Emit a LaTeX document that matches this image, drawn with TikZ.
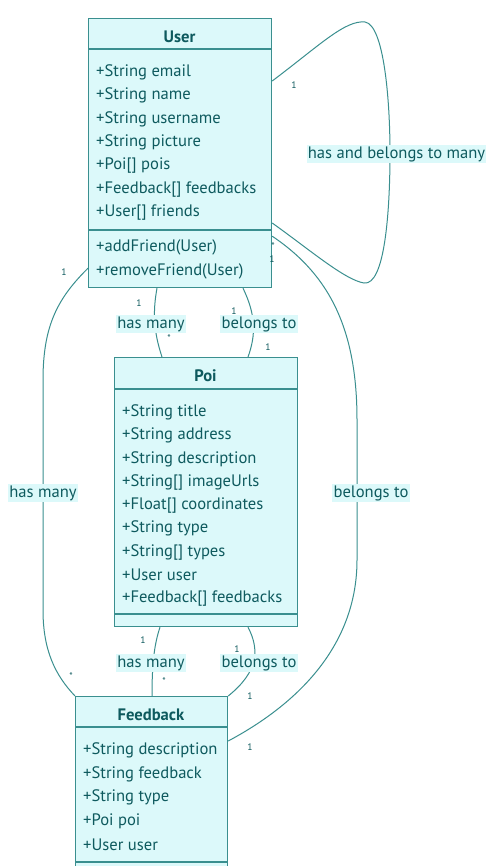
\documentclass[tikz,border=0pt]{standalone}
\usepackage{fontspec}
\setmainfont{PT Sans}
\usetikzlibrary{calc}
\definecolor{boxfill}{HTML}{DCF9FA}
\definecolor{boxline}{HTML}{3A8F8F}
\definecolor{txt}{HTML}{0E5A5E}
\tikzset{
  classbox/.style={draw=boxline, fill=boxfill, line width=1.2pt, anchor=north west, inner sep=0pt},
  sepline/.style={draw=boxline, line width=1.2pt},
  title/.style={text=txt, font=\fontsize{16.6}{19}\selectfont\bfseries, inner sep=0pt},
  attr/.style={text=txt, font=\fontsize{16.6}{19}\selectfont, anchor=west, inner sep=0pt},
  edge/.style={draw=boxline, line width=1pt},
  lbl/.style={text=txt, fill=boxfill, font=\fontsize{16.6}{19}\selectfont, inner sep=1.2pt},
  card/.style={text=txt, font=\fontsize{9.5}{10}\selectfont, inner sep=0pt}
}
\begin{document}
\begin{tikzpicture}[x=1pt,y=-1pt]
\clip (0,0) rectangle (487,866);
\fill[white] (0,0) rectangle (487,866);
% class boxes
\node[classbox, minimum width=183pt, minimum height=269pt] (user) at (88,18) {};
\node[classbox, minimum width=183pt, minimum height=269pt] (poi) at (114,357) {};
\node[classbox, minimum width=152pt, minimum height=200pt] (fb) at (75,696) {};
% separators
\draw[sepline] ($(user.north west)+(0,31)$) -- ($(user.north east)+(0,31)$);
\draw[sepline] ($(user.north west)+(0,212)$) -- ($(user.north east)+(0,212)$);
\draw[sepline] ($(poi.north west)+(0,32)$) -- ($(poi.north east)+(0,32)$);
\draw[sepline] ($(poi.north west)+(0,257)$) -- ($(poi.north east)+(0,257)$);
\draw[sepline] ($(fb.north west)+(0,31)$) -- ($(fb.north east)+(0,31)$);
\draw[sepline] ($(fb.north west)+(0,166)$) -- ($(fb.north east)+(0,166)$);
% titles
\node[title] (usert) at (179.5,37) {User};
\node[title] (poit) at (205.5,376) {Poi};
\node[title] (fbt) at (151,715) {Feedback};
% attributes
\foreach \t [count=\i] in {+String email,+String name,+String username,+String picture,+Poi[] pois,+Feedback[] feedbacks,+User[] friends}
  \node[attr] (ua\i) at (96,{72.5+23.33*(\i-1)}) {\t};
\node[attr] (um1) at (96,247.5) {+addFriend(User)};
\node[attr] (um2) at (96,271) {+removeFriend(User)};
\foreach \t [count=\i] in {+String title,+String address,+String description,+String[] imageUrls,+Float[] coordinates,+String type,+String[] types,+User user,+Feedback[] feedbacks}
  \node[attr] (pa\i) at (122,{412.5+23.25*(\i-1)}) {\t};
\foreach \t [count=\i] in {+String description,+String feedback,+String type,+Poi poi,+User user}
  \node[attr] (fa\i) at (83,{750.5+23.5*(\i-1)}) {\t};
% edges
% user self loop
\draw[edge] ($(user.north east)+(0,63)$) .. controls (320,45) and (345,20) .. (365,22)
  .. controls (384,25) and (390,100) .. (390,153)
  .. controls (390,210) and (385,286) .. (364,283)
  .. controls (345,280) and (310,250) .. ($(user.north east)+(0,205)$);
% user -> poi has many
\draw[edge] ($(user.south west)+(69,0)$) .. controls (153,310) and (153,330) .. ($(poi.north west)+(48,0)$);
% poi -> user belongs to
\draw[edge] ($(user.south west)+(155,0)$) .. controls (256,315) and (256,335) .. ($(poi.north west)+(134,0)$);
% user -> feedback has many
\draw[edge] ($(user.south west)+(0,-20)$) .. controls (58,298) and (43,325) .. (43,380)
  -- (43,610) .. controls (43,650) and (55,675) .. (fb.north west);
% feedback -> user belongs to
\draw[edge] ($(user.south east)+(0,-52)$) .. controls (330,275) and (357,330) .. (357,420)
  -- (357,560) .. controls (357,640) and (305,700) .. ($(fb.north east)+(0,45)$);
% poi -> feedback has many
\draw[edge] ($(poi.south west)+(46,0)$) .. controls (154,645) and (152,665) .. ($(fb.north west)+(77,0)$);
% feedback -> poi belongs to
\draw[edge] ($(poi.south west)+(134,0)$) .. controls (260,650) and (258,672) .. (fb.north east);
% edge labels
\node[lbl] (l1) at (396.5,154) {has and belongs to many};
\node[lbl] (l2) at (151,324) {has many};
\node[lbl] (l3) at (259,324) {belongs to};
\node[lbl] (l4) at (43,493) {has many};
\node[lbl] (l5) at (371,493) {belongs to};
\node[lbl] (l6) at (151,663) {has many};
\node[lbl] (l7) at (259,663) {belongs to};
% cardinalities
\node[card] (c1) at (294,85) {1};
\node[card] (c2) at (273,246) {*};
\node[card] (c3) at (272,259) {1};
\node[card] (c4) at (139,303) {1};
\node[card] (c5) at (169,338) {*};
\node[card] (c6) at (234,311) {1};
\node[card] (c7) at (268,347) {1};
\node[card] (c8) at (64,272) {1};
\node[card] (c9) at (71,676) {*};
\node[card] (c10) at (143,640) {1};
\node[card] (c11) at (164,681) {*};
\node[card] (c12) at (237,649) {1};
\node[card] (c13) at (250,696) {1};
\node[card] (c14) at (250,747) {1};
\end{tikzpicture}
\end{document}
